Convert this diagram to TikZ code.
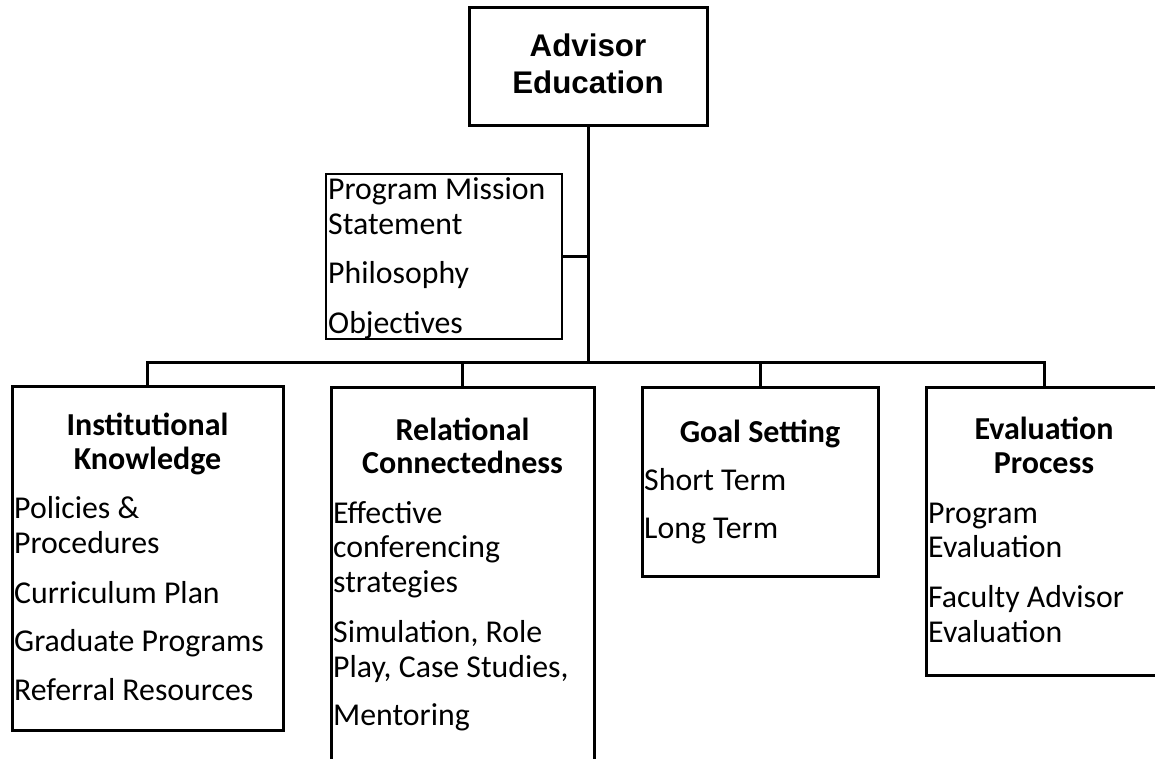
\documentclass[tikz,border=0pt]{standalone}
\usepackage{fontspec}
\setmainfont{Carlito}
\newfontfamily\arialfont{Liberation Sans}
\begin{document}
\begin{tikzpicture}[x=1pt,y=-1pt,
  box/.style={draw=black,line width=3pt,rectangle,inner sep=0pt,fill=white},
  thinbox/.style={box,line width=2.4pt},
  link/.style={draw=black,line width=3pt},
  item/.style={anchor=base west,inner sep=0pt,font=\fontsize{31.8}{36}\selectfont},
  head/.style={anchor=base,inner sep=0pt,font=\fontsize{32}{36}\selectfont\bfseries},
  title/.style={anchor=base,inner sep=0pt,font=\arialfont\bfseries\fontsize{31.3}{37}\selectfont}]
\useasboundingbox (0,0) rectangle (1155,758);
\begin{scope}
\clip (0,0) rectangle (1155,758);
% boxes
\node[box,minimum width=238pt,minimum height=118pt] (top) at (588,66) {};
\node[thinbox,minimum width=236pt,minimum height=165pt] (mission) at (444,256.5) {};
\node[box,minimum width=271pt,minimum height=344pt] (inst) at (147.5,558) {};
\node[box,minimum width=263pt,minimum height=403pt] (rel) at (462.5,588.5) {};
\node[box,minimum width=236pt,minimum height=189pt] (goal) at (760,481.5) {};
\node[box,minimum width=236pt,minimum height=288pt] (eval) at (1044,531) {};
% connectors
\coordinate (bus) at (588,362);
\draw[link] (top.south) -- (bus);
\draw[link] (mission.east) -- (mission.east -| top.south);
\draw[link,line cap=rect] (inst.north |- bus) -- (eval.north |- bus);
\draw[link] (inst.north |- bus) -- (inst.north);
\draw[link] (rel.north |- bus) -- (rel.north);
\draw[link] (goal.north |- bus) -- (goal.north);
\draw[link] (eval.north |- bus) -- (eval.north);
% top
\node[title] (t1) at (588,56) {Advisor};
\node[title] (t2) at (588,93) {Education};
% mission
\node[item] (m1) at (328,199) {Program Mission};
\node[item] (m2) at (328,234) {Statement};
\node[item] (m3) at (328,283) {Philosophy};
\node[item] (m4) at (328,333) {Objectives};
% institutional knowledge
\node[head] (i0) at (147.5,435) {Institutional};
\node[head] (i1) at (147.5,469) {Knowledge};
\node[item] (i2) at (14,518) {Policies \&};
\node[item] (i3) at (14,553) {Procedures};
\node[item] (i4) at (14,603) {Curriculum Plan};
\node[item] (i5) at (14,651) {Graduate Programs};
\node[item] (i6) at (14,700) {Referral Resources};
% relational connectedness
\node[head] (r0) at (462.5,440) {Relational};
\node[head] (r1) at (462.5,473) {Connectedness};
\node[item] (r2) at (333,523) {Effective};
\node[item] (r3) at (333,557) {conferencing};
\node[item] (r4) at (333,592) {strategies};
\node[item] (r5) at (333,642) {Simulation, Role};
\node[item] (r6) at (333,677) {Play, Case Studies,};
\node[item] (r7) at (333,725) {Mentoring};
% goal setting
\node[head] (g0) at (760,442) {Goal Setting};
\node[item] (g1) at (644,490) {Short Term};
\node[item] (g2) at (644,538) {Long Term};
% evaluation process
\node[head] (e0) at (1044,439) {Evaluation};
\node[head] (e1) at (1044,473) {Process};
\node[item] (e2) at (928,523) {Program};
\node[item] (e3) at (928,557) {Evaluation};
\node[item] (e4) at (928,607) {Faculty Advisor};
\node[item] (e5) at (928,642) {Evaluation};
\end{scope}
\end{tikzpicture}
\end{document}
